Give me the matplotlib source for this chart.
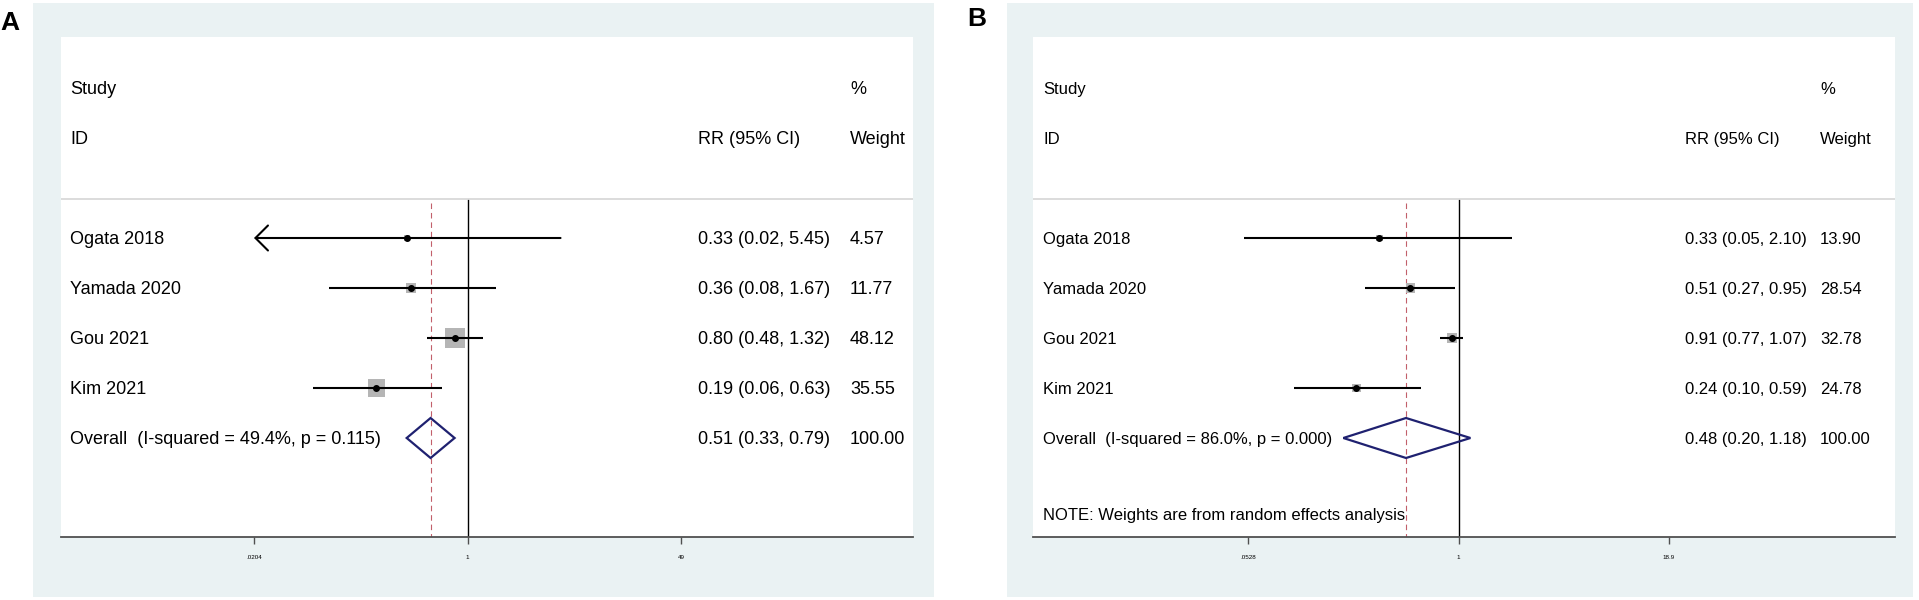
import numpy as np
import matplotlib
matplotlib.use('Agg')
import matplotlib.pyplot as plt
from matplotlib.patches import Rectangle
from matplotlib.ticker import NullLocator
from matplotlib.transforms import blended_transform_factory

plt.rcParams['font.family'] = ['Liberation Sans', 'DejaVu Sans']

# ---- data ----
studies = ['Ogata 2018', 'Yamada 2020', 'Gou 2021', 'Kim 2021']

# panel A
a_rr = [0.33, 0.36, 0.80, 0.19]
a_lo = [0.02, 0.08, 0.48, 0.06]
a_hi = [5.45, 1.67, 1.32, 0.63]
a_weight = [4.57, 11.77, 48.12, 35.55]
a_arrow = [True, False, False, False]   # CI runs off the left of the scale
a_overall = [0.51, 0.33, 0.79]
a_i2, a_p = 49.4, 0.115
a_ticks = [0.0204, 1, 49]
a_ticklabels = ['.0204', '1', '49']

# panel B
b_rr = [0.33, 0.51, 0.91, 0.24]
b_lo = [0.05, 0.27, 0.77, 0.10]
b_hi = [2.10, 0.95, 1.07, 0.59]
b_weight = [13.90, 28.54, 32.78, 24.78]
b_arrow = [False, False, False, False]
b_overall = [0.48, 0.20, 1.18]
b_i2, b_p = 86.0, 0.000
b_ticks = [0.0528, 1, 18.9]
b_ticklabels = ['.0528', '1', '18.9']
b_note = 'NOTE: Weights are from random effects analysis'

# ---- layout (pixels of the 1919x600 picture) ----
W, H = 1919, 600
BG = '#eaf2f3'
NAVY = '#1f2170'
RED = '#c25f6b'
BOXGRAY = '#b5b5b5'

ROW0, PITCH = 238, 50          # pixel y of first study row, row spacing
TOP, BOTTOM = 37, 537          # inner white region / axis line


def row_of(py):
    return 1 + (py - ROW0) / PITCH


def fig_rect(x0, y0, x1, y1):
    return [x0 / W, 1 - y1 / H, (x1 - x0) / W, (y1 - y0) / H]


fig = plt.figure(figsize=(W / 100, H / 100), dpi=100, facecolor='white')


def draw_panel(letter, letter_xy, outer, inner, tick_px, cols, fs, rr, lo, hi, wt,
               arrow, overall, i2, p, ticks, ticklabels, box_k, note=None):
    fig.add_artist(Rectangle((outer[0] / W, 1 - outer[3] / H),
                             (outer[2] - outer[0]) / W, (outer[3] - outer[1]) / H,
                             transform=fig.transFigure, facecolor=BG,
                             edgecolor='none', zorder=-1))
    fig.text(letter_xy[0] / W, 1 - letter_xy[1] / H, letter, fontsize=19,
             fontweight='bold', ha='center', va='center')

    ax = fig.add_axes(fig_rect(*inner))
    ax.set_facecolor('white')
    ax.set_xscale('log')

    # x limits so the outer ticks land where they sit in the picture
    f0 = (tick_px[0] - inner[0]) / (inner[2] - inner[0])
    f1 = (tick_px[1] - inner[0]) / (inner[2] - inner[0])
    l0, l1 = np.log10(ticks[0]), np.log10(ticks[-1])
    span = (l1 - l0) / (f1 - f0)
    left = l0 - f0 * span
    ax.set_xlim(10 ** left, 10 ** (left + span))
    ax.set_ylim(row_of(BOTTOM), row_of(TOP))

    for s in ['top', 'right', 'left']:
        ax.spines[s].set_visible(False)
    ax.spines['bottom'].set_color('#505050')
    ax.spines['bottom'].set_linewidth(1.3)
    ax.set_yticks([])
    ax.set_xticks(ticks)
    ax.set_xticklabels(ticklabels, fontsize=4.5)
    ax.xaxis.set_minor_locator(NullLocator())
    ax.tick_params(axis='x', length=5, width=1, pad=8, color='#505050')

    tr = blended_transform_factory(ax.transAxes, ax.transData)
    fx = lambda px: (px - inner[0]) / (inner[2] - inner[0])

    def txt(px, y, s):
        ax.text(fx(px), y, s, transform=tr, fontsize=fs, va='center_baseline')

    sep = row_of(199)
    ax.axhline(sep, color='#d6d6d6', lw=1.2)

    # header
    txt(cols[0], -2, 'Study')
    txt(cols[0], -1, 'ID')
    txt(cols[1], -1, 'RR (95% CI)')
    txt(cols[2], -2, '%')
    txt(cols[2], -1, 'Weight')

    ymax = row_of(BOTTOM)
    ax.vlines(1, sep, ymax, color='black', lw=1.0, zorder=1)
    ax.vlines(overall[0], sep + 0.08, ymax, color=RED, lw=0.8,
              linestyle=(0, (5, 3.5)), zorder=1)

    rows = np.arange(1, len(rr) + 1)
    sides = box_k * np.sqrt(wt) * 0.72
    ax.scatter(rr, rows, marker='s', s=sides ** 2, color=BOXGRAY,
               linewidths=0, zorder=2)
    for y, r, a, b, w, arr in zip(rows, rr, lo, hi, wt, arrow):
        if arr:
            ax.annotate('', xy=(ticks[0], y), xytext=(b, y),
                        arrowprops=dict(arrowstyle='->,head_length=0.9,head_width=0.9',
                                        lw=1.5, color='black', shrinkA=0, shrinkB=0,
                                        mutation_scale=10), zorder=3)
        else:
            ax.hlines(y, a, b, color='black', lw=1.5, zorder=3)
        txt(cols[0], y, studies[y - 1])
        txt(cols[1], y, f'{r:.2f} ({a:.2f}, {b:.2f})')
        txt(cols[2], y, f'{w:.2f}')
    ax.plot(rr, rows, 'o', ms=4, color='black', zorder=4)

    # overall diamond
    yo = len(rr) + 1
    est, olo, ohi = overall
    ax.fill([olo, est, ohi, est], [yo, yo - 0.4, yo, yo + 0.4],
            facecolor='none', edgecolor=NAVY, lw=1.6, zorder=5)
    txt(cols[0], yo, f'Overall  (I-squared = {i2:.1f}%, p = {p:.3f})')
    txt(cols[1], yo, f'{est:.2f} ({olo:.2f}, {ohi:.2f})')
    txt(cols[2], yo, '100.00')
    if note:
        txt(cols[0], row_of(514), note)
    return ax


draw_panel('A', (10, 23), (33, 3, 934, 597), (61, TOP, 913, BOTTOM), (254, 681),
           (70, 698, 850), 13, a_rr, a_lo, a_hi, a_weight, a_arrow, a_overall,
           a_i2, a_p, a_ticks, a_ticklabels, box_k=2.9)
draw_panel('B', (977, 19), (1007, 3, 1913, 597), (1033, TOP, 1895, BOTTOM), (1248, 1669),
           (1043, 1685, 1820), 12, b_rr, b_lo, b_hi, b_weight, b_arrow, b_overall,
           b_i2, b_p, b_ticks, b_ticklabels, box_k=1.8, note=b_note)

fig.savefig('out.png', dpi=100, facecolor='white')
